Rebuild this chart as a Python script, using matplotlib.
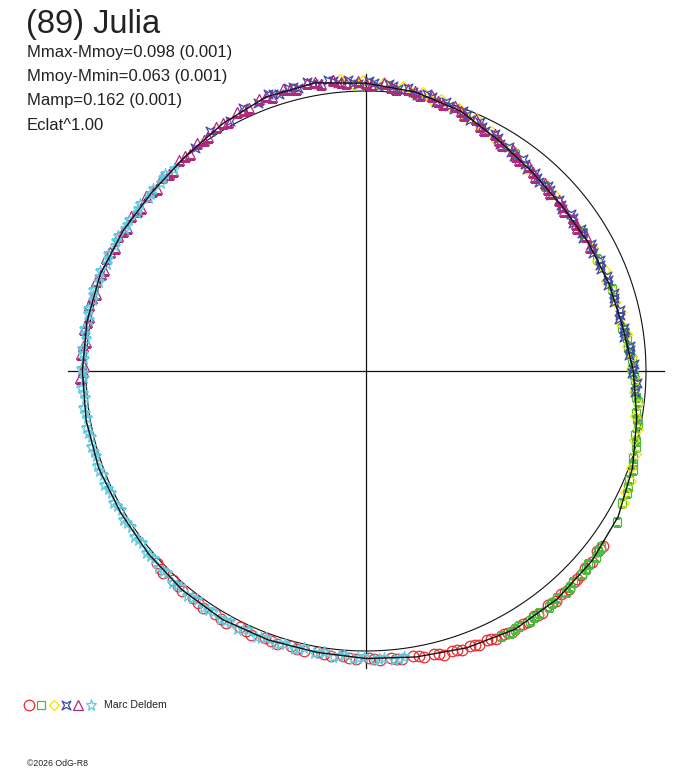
import numpy as np
import matplotlib
matplotlib.use("Agg")
import matplotlib.pyplot as plt
from matplotlib.path import Path

plt.rcParams['font.family'] = ['Liberation Sans', 'DejaVu Sans']

# rotational phase in degrees (clockwise from top), dm = M - Mmoy
fit_phase = [0, 10, 20, 30, 40, 50, 60, 70, 80, 90, 100, 110, 120, 130, 140, 150, 160, 170,
             180, 190, 200, 210, 220, 230, 240, 250, 260, 270, 280, 290, 300, 310, 320, 330, 340, 350]
fit_dm = [-0.028, -0.012, 0.012, 0.050, 0.074, 0.085, 0.083, 0.078, 0.070, 0.045, 0.018, -0.013,
          -0.040, -0.054, -0.063, -0.065, -0.052, -0.037, -0.027, -0.020, -0.022, -0.025, -0.021,
          -0.015, -0.012, -0.016, -0.015, -0.013, -0.012, -0.010, -0.002, 0.004, -0.002, -0.021,
          -0.042, -0.045]

red_phase = [126.5, 128.0, 130.2, 131.9, 133.5, 135.4, 137.0, 138.8, 140.5, 142.1, 143.9, 145.6,
             147.2, 149.0, 150.7, 152.3, 154.1, 155.8, 157.5, 159.2, 161.0, 162.9, 164.7, 166.4,
             168.5, 170.6, 172.8, 175.0, 177.3, 179.5, 182.0, 184.6, 187.0, 189.8, 192.5, 195.3,
             198.0, 200.8, 203.5, 206.2, 209.0, 211.8, 214.5, 217.3, 220.0, 222.6, 225.1, 227.4,
             127.2, 130.9, 134.6, 138.0, 141.4, 144.8, 148.2, 151.5, 155.0, 158.4, 162.0, 165.5,
             169.5, 174.0, 178.4, 183.3, 188.4, 193.9, 199.4, 204.8, 210.4, 215.9, 221.3, 226.0]
red_dm = [-0.052, -0.047, -0.058, -0.053, -0.061, -0.056, -0.064, -0.059, -0.066, -0.060, -0.068,
          -0.061, -0.067, -0.062, -0.069, -0.059, -0.064, -0.055, -0.059, -0.049, -0.054, -0.045,
          -0.050, -0.040, -0.043, -0.032, -0.038, -0.029, -0.034, -0.024, -0.030, -0.021, -0.026,
          -0.017, -0.024, -0.018, -0.026, -0.019, -0.027, -0.020, -0.029, -0.021, -0.027, -0.018,
          -0.025, -0.016, -0.022, -0.013,
          -0.050, -0.055, -0.058, -0.062, -0.062, -0.065, -0.063, -0.066, -0.058, -0.053, -0.049,
          -0.043, -0.037, -0.033, -0.028, -0.025, -0.021, -0.021, -0.023, -0.022, -0.026, -0.022,
          -0.020, -0.018]

green_phase = [34.5, 44.0, 57.5, 64.0, 71.5, 80.5, 82.8, 85.0, 87.4, 89.6, 91.9, 94.2, 96.5, 98.8,
               101.0, 103.3, 105.7, 108.0, 110.3, 112.6, 115.0, 117.3, 121.0, 126.8, 128.9, 131.0,
               133.2, 135.5, 137.8, 140.0, 142.3, 144.5, 146.8, 149.0, 151.2, 153.0,
               81.7, 86.2, 90.8, 95.4, 100.0, 104.5, 109.1, 113.8, 127.8, 132.1, 136.6, 141.2,
               145.7, 150.1]
green_dm = [0.058, 0.081, 0.080, 0.084, 0.074, 0.072, 0.060, 0.061, 0.049, 0.050, 0.037, 0.038,
            0.024, 0.025, 0.012, 0.011, -0.003, -0.004, -0.017, -0.017, -0.030, -0.030, -0.044,
            -0.047, -0.055, -0.052, -0.060, -0.057, -0.064, -0.060, -0.066, -0.061, -0.067, -0.062,
            -0.066, -0.063,
            0.066, 0.055, 0.043, 0.030, 0.019, 0.005, -0.010, -0.024, -0.050, -0.057, -0.060,
            -0.062, -0.065, -0.064]

yellow_phase = [355.0, 357.5, 359.5, 1.5, 3.5, 5.5, 7.5, 9.5, 11.5, 13.5, 15.5, 17.5, 19.5, 21.5,
                23.5, 25.5, 27.5, 29.5, 33.0, 38.5, 47.0, 55.0, 61.5, 64.5, 67.0, 69.5, 72.0, 74.5,
                77.0, 79.5, 82.0, 84.5, 87.0, 89.5, 92.0, 94.5, 97.0, 99.5, 102.0, 104.5, 107.0,
                110.0, 112.5, 115.0, 117.0]
yellow_dm = [-0.048, -0.022, -0.039, -0.018, -0.033, -0.011, -0.025, -0.005, -0.017, 0.004, -0.008,
             0.013, 0.003, 0.026, 0.016, 0.041, 0.032, 0.055, 0.050, 0.077, 0.076, 0.090, 0.076,
             0.087, 0.074, 0.084, 0.071, 0.079, 0.067, 0.075, 0.060, 0.065, 0.048, 0.052, 0.035,
             0.039, 0.021, 0.025, 0.007, 0.010, -0.008, -0.008, -0.025, -0.022, -0.036]

blue_phase = [322.5, 327.0, 331.5, 335.0, 338.0, 340.5, 342.5, 344.5, 346.5, 348.5, 350.5, 352.5,
              354.5, 356.5, 358.5, 0.5, 2.5, 4.5, 6.5, 8.5, 10.5, 12.5, 14.5, 16.5, 18.5, 20.5,
              22.5, 24.5, 26.5, 28.5, 30.5, 32.5, 34.5, 36.5, 38.5, 40.5, 42.5, 44.5, 46.5, 48.5,
              50.5, 52.5, 54.5, 56.5, 58.5, 60.5, 62.5, 64.5, 66.5, 68.5, 70.5, 72.5, 74.5, 76.5,
              78.5, 80.5, 82.5, 84.5, 86.5, 88.5, 90.5, 92.5, 94.5,
              341.5, 345.5, 349.5, 353.5, 357.5, 1.5, 5.5, 9.5, 13.5, 17.5, 21.5, 25.5, 29.5,
              33.5, 37.5, 41.5, 45.5, 49.5, 53.5, 57.5, 61.5, 65.5, 69.5, 73.5, 77.5, 81.5,
              85.5, 89.5]
blue_dm = [-0.003, -0.022, -0.018, -0.038, -0.032, -0.050, -0.037, -0.049, -0.040, -0.052, -0.038,
           -0.047, -0.033, -0.041, -0.025, -0.035, -0.019, -0.029, -0.012, -0.021, -0.004, -0.013,
           0.006, -0.003, 0.015, 0.007, 0.029, 0.022, 0.044, 0.037, 0.058, 0.050, 0.067, 0.060,
           0.076, 0.069, 0.083, 0.074, 0.087, 0.078, 0.091, 0.079, 0.090, 0.078, 0.089, 0.077,
           0.088, 0.076, 0.086, 0.073, 0.083, 0.071, 0.080, 0.067, 0.077, 0.064, 0.070, 0.054,
           0.060, 0.044, 0.049, 0.033, 0.038,
           -0.044, -0.046, -0.043, -0.042, -0.030, -0.028, -0.022, -0.011, -0.006, 0.009, 0.016,
           0.036, 0.045, 0.061, 0.066, 0.079, 0.078, 0.086, 0.082, 0.086, 0.080, 0.083, 0.076,
           0.077, 0.070, 0.069, 0.055, 0.048]

purple_phase = [268.5, 271.0, 273.5, 276.0, 278.5, 281.0, 283.5, 286.0, 288.5, 291.0, 293.5, 296.0,
                298.5, 301.0, 303.5, 306.0, 308.5, 311.0, 313.5, 316.0, 318.5, 321.0, 323.5, 326.0,
                328.5, 331.0, 333.5, 336.0, 338.5, 341.0, 343.5, 346.0, 348.5, 351.0, 353.5, 356.0,
                358.5, 1.0, 3.5, 6.0, 8.5, 11.0, 13.5, 16.0, 18.5, 21.0, 23.5, 26.0, 28.5, 31.0,
                33.5, 36.0, 38.5, 41.0, 43.5, 46.0, 48.5, 51.0, 53.5, 56.0, 58.5, 61.0,
                270.0, 275.0, 280.0, 285.0, 290.0, 295.0, 300.0, 305.0, 310.0, 315.0, 320.0, 325.0,
                330.0, 335.0, 340.0, 345.0, 350.0, 355.0, 0.0, 5.0, 10.0, 15.0, 20.0, 25.0, 30.0,
                35.0, 40.0, 45.0, 50.0, 55.0]
purple_dm = [-0.020, -0.006, -0.019, -0.005, -0.018, -0.006, -0.017, -0.004, -0.016, -0.003, -0.013,
             0.001, -0.009, 0.005, -0.006, 0.008, -0.003, 0.009, -0.004, 0.006, -0.007, 0.002,
             -0.014, -0.007, -0.024, -0.017, -0.034, -0.028, -0.045, -0.036, -0.049, -0.038, -0.051,
             -0.038, -0.046, -0.030, -0.037, -0.021, -0.029, -0.012, -0.020, -0.004, -0.010, 0.008,
             0.002, 0.022, 0.019, 0.041, 0.038, 0.058, 0.052, 0.070, 0.064, 0.081, 0.073, 0.086,
             0.078, 0.090, 0.079, 0.089, 0.078, 0.087,
             -0.012, -0.014, -0.011, -0.013, -0.009, -0.008, -0.001, 0.003, 0.002, 0.003, -0.004,
             -0.009, -0.023, -0.030, -0.044, -0.042, -0.047, -0.035, -0.030, -0.018, -0.014, 0.002,
             0.010, 0.033, 0.048, 0.064, 0.072, 0.082, 0.083, 0.086]

cyan_phase = [172.5, 174.5, 176.5, 178.5, 180.5, 182.5, 184.5, 186.5, 188.5, 190.5, 192.5, 194.5,
              196.5, 198.5, 200.5, 202.5, 204.5, 206.5, 208.5, 210.5, 212.5, 214.5, 216.5, 218.5,
              220.5, 222.5, 224.5, 226.5, 228.5, 230.5, 232.5, 234.5, 236.5, 238.5, 240.5, 242.5,
              244.5, 246.5, 248.5, 250.5, 252.5, 254.5, 256.5, 258.5, 260.5, 262.5, 264.5, 266.5,
              268.5, 270.5, 272.5, 274.5, 276.5, 278.5, 280.5, 282.5, 284.5, 286.5, 288.5, 290.5,
              292.5, 294.5, 296.5, 298.5, 300.5, 302.5, 304.5, 306.5, 308.5, 310.5, 312.5, 314.5,
              316.5,
              173.5, 177.5, 181.5, 185.5, 189.5, 193.5, 197.5, 201.5, 205.5, 209.5, 213.5, 217.5,
              221.5, 225.5, 229.5, 233.5, 237.5, 241.5, 245.5, 249.5, 253.5, 257.5, 261.5, 265.5,
              269.5, 273.5, 277.5, 281.5, 285.5, 289.5, 293.5, 297.5, 301.5, 305.5, 309.5, 313.5]
cyan_dm = [-0.030, -0.038, -0.026, -0.034, -0.022, -0.030, -0.019, -0.027, -0.016, -0.025, -0.015,
           -0.026, -0.016, -0.027, -0.017, -0.028, -0.018, -0.029, -0.020, -0.030, -0.019, -0.028,
           -0.017, -0.027, -0.016, -0.025, -0.013, -0.022, -0.011, -0.020, -0.009, -0.019, -0.008,
           -0.017, -0.007, -0.018, -0.009, -0.020, -0.011, -0.021, -0.011, -0.021, -0.010, -0.020,
           -0.010, -0.020, -0.009, -0.019, -0.008, -0.018, -0.008, -0.018, -0.007, -0.017, -0.007,
           -0.017, -0.006, -0.016, -0.005, -0.015, -0.003, -0.011, 0.000, -0.008, 0.003, -0.005,
           0.006, -0.003, 0.008, -0.001, 0.008, -0.004, 0.005,
           -0.034, -0.031, -0.026, -0.023, -0.021, -0.020, -0.022, -0.023, -0.023, -0.026, -0.024,
           -0.021, -0.021, -0.017, -0.016, -0.014, -0.012, -0.013, -0.014, -0.017, -0.015, -0.016,
           -0.014, -0.015, -0.012, -0.014, -0.011, -0.013, -0.010, -0.011, -0.006, -0.005, 0.000,
           0.001, 0.005, 0.001]

title = "(89) Julia"
stats = ["Mmax-Mmoy=0.098 (0.001)", "Mmoy-Mmin=0.063 (0.001)", "Mamp=0.162 (0.001)", "Eclat^1.00"]
observer = "Marc Deldem"
credit = "\u00a92026 OdG-R8"

# concave 4-point star
star4 = Path([(-1, -1), (0, -0.45), (1, -1), (0.45, 0), (1, 1), (0, 0.45), (-1, 1), (-0.45, 0), (-1, -1)],
             [Path.MOVETO] + [Path.LINETO] * 7 + [Path.CLOSEPOLY])

series = [
    (red_phase, red_dm, 'o', '#ea2a30', 7.6),
    (green_phase, green_dm, 's', '#52b844', 5.6),
    (yellow_phase, yellow_dm, 'D', '#f4e600', 5.4),
    (blue_phase, blue_dm, star4, '#3a4ca8', 6.4),
    (purple_phase, purple_dm, '^', '#b0297d', 7.4),
    (cyan_phase, cyan_dm, '*', '#64cade', 8.2),
]

W, H = 688, 768
cx, cy, R = 366, 371, 280
rmax = 1.2
fig = plt.figure(figsize=(W / 100, H / 100), dpi=100)
side = 2 * rmax * R
ax = fig.add_axes([(cx - side / 2) / W, (H - cy - side / 2) / H, side / W, side / H], projection='polar')
ax.set_theta_zero_location('N')
ax.set_theta_direction(-1)
ax.set_rlim(0, rmax)
ax.set_axis_off()

# cross and unit circle
ax.plot([0, 0, np.pi], [1.06, 0, 1.06], color='#111111', lw=0.9)
ax.plot([np.pi / 2, 0, 3 * np.pi / 2], [1.065, 0, 1.065], color='#111111', lw=0.9)
circ = np.linspace(0, 2 * np.pi, 721)
ax.plot(circ, np.ones_like(circ), color='#111111', lw=0.8)

for ph, dm, mk, col, ms in series:
    th = np.deg2rad(ph)
    r = 1 - np.array(dm)
    ax.plot(th, r, ls='none', marker=mk, ms=ms, mfc='none', mec=col, mew=0.9)

fth = np.deg2rad(fit_phase + [360])
fr = 1 - np.array(fit_dm + [fit_dm[0]])
ax.plot(fth, fr, color='#111111', lw=1.0, zorder=5)

# overlay in pixel coordinates for texts and legend
ov = fig.add_axes([0, 0, 1, 1])
ov.set_xlim(0, W)
ov.set_ylim(H, 0)
ov.set_axis_off()
ov.patch.set_alpha(0)

ov.text(26, 33, title, fontsize=23.5, color='#222222', va='baseline')
for i, s in enumerate(stats):
    ov.text(27, 57 + i * 24.2, s, fontsize=12, color='#222222', va='baseline')

lx = [29, 41, 53.5, 66, 78, 90.5]
for x, (ph, dm, mk, col, ms) in zip(lx, series):
    ov.plot([x], [704.5], ls='none', marker=mk, ms=ms, mfc='none', mec=col, mew=0.9)
ov.text(104, 708.5, observer, fontsize=7.6, color='#222222', va='baseline')
ov.text(27, 766, credit, fontsize=6.3, color='#222222', va='baseline')

fig.savefig("out.png", dpi=100)
